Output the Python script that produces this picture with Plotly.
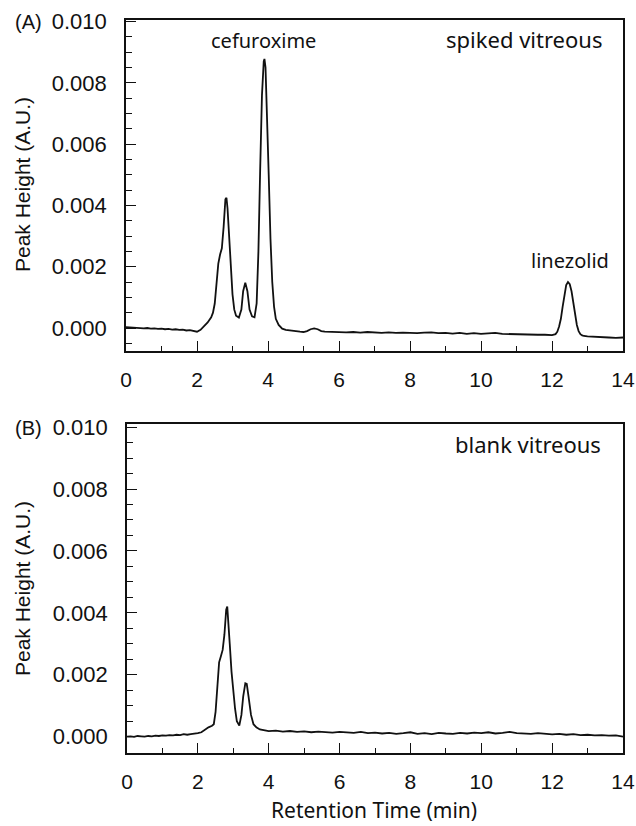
import plotly.graph_objects as go

# ---------------- data ----------------
time_a = [0.0, 0.1, 0.2, 0.3, 0.4, 0.5, 0.6, 0.7, 0.8, 0.9, 1.0, 1.1, 1.2, 1.3, 1.4,
          1.5, 1.6, 1.7, 1.8, 1.9, 2.0, 2.1, 2.2, 2.3, 2.4, 2.45, 2.5, 2.55, 2.6, 2.65,
          2.7, 2.75, 2.8, 2.83, 2.86, 2.9, 2.95, 3.0, 3.05, 3.1, 3.18, 3.25, 3.3, 3.36,
          3.42, 3.48, 3.55, 3.62, 3.68, 3.73, 3.78, 3.83, 3.88, 3.9, 3.93, 3.97, 4.02,
          4.07, 4.12, 4.17, 4.22, 4.3, 4.4, 4.5, 4.6, 4.7, 4.8, 4.9, 5.0, 5.1, 5.2, 5.3,
          5.4, 5.5, 5.6, 5.8, 6.0, 6.2, 6.4, 6.6, 6.8, 7.0, 7.2, 7.4, 7.6, 7.8, 8.0, 8.2,
          8.4, 8.6, 8.8, 9.0, 9.2, 9.4, 9.6, 9.8, 10.0, 10.2, 10.4, 10.6, 10.8, 11.0,
          11.2, 11.4, 11.6, 11.8, 12.0, 12.1, 12.15, 12.2, 12.25, 12.3, 12.35, 12.4,
          12.45, 12.5, 12.55, 12.6, 12.65, 12.7, 12.75, 12.8, 12.85, 12.9, 13.0, 13.2,
          13.4, 13.6, 13.8, 14.0]
height_a = [0.00003, 0.00002, 0.00001, 0.00002, 0.00000, -0.00001, 0.00000, -0.00002,
            -0.00001, -0.00003, -0.00002, -0.00004, -0.00003, -0.00005, -0.00004,
            -0.00006, -0.00005, -0.00008, -0.00007, -0.00010, -0.00012, -0.00006,
            0.00005, 0.00018, 0.00035, 0.0005, 0.0008, 0.0014, 0.0021, 0.0024, 0.0026,
            0.0033, 0.0042, 0.00425, 0.0039, 0.0031, 0.0020, 0.0011, 0.0006, 0.0004,
            0.00034, 0.0006, 0.0012, 0.00148, 0.0012, 0.0006, 0.00038, 0.00035, 0.0008,
            0.0025, 0.0052, 0.0076, 0.0087, 0.00878, 0.0085, 0.0072, 0.0050, 0.0029,
            0.0015, 0.0007, 0.0003, 0.0001, -0.00002, -0.00006, -0.00008, -0.00010,
            -0.00011, -0.00012, -0.00013, -0.00010, -0.00004, -0.00001, -0.00004,
            -0.00010, -0.00012, -0.00013, -0.00012, -0.00014, -0.00013, -0.00015,
            -0.00013, -0.00015, -0.00016, -0.00014, -0.00016, -0.00015, -0.00016,
            -0.00017, -0.00015, -0.00014, -0.00017, -0.00016, -0.00018, -0.00016,
            -0.00019, -0.00017, -0.00019, -0.00018, -0.00016, -0.00019, -0.00020,
            -0.00019, -0.00021, -0.00021, -0.00022, -0.00022, -0.00023, -0.00020,
            -0.00012, 0.00005, 0.0003, 0.0007, 0.0011, 0.0014, 0.0015, 0.00143, 0.0012,
            0.0008, 0.0004, 0.0001, -0.0001, -0.0002, -0.00024, -0.00026, -0.00027,
            -0.00029, -0.0003, -0.00031, -0.00032, -0.00031]

time_b = [0.0, 0.1, 0.2, 0.3, 0.4, 0.5, 0.6, 0.7, 0.8, 0.9, 1.0, 1.1, 1.2, 1.3, 1.4,
          1.5, 1.6, 1.7, 1.8, 1.9, 2.0, 2.1, 2.2, 2.3, 2.4, 2.45, 2.5, 2.55, 2.6, 2.65,
          2.7, 2.75, 2.8, 2.83, 2.86, 2.9, 2.95, 3.0, 3.05, 3.1, 3.17, 3.23, 3.28, 3.34,
          3.38, 3.43, 3.5, 3.57, 3.65, 3.75, 3.85, 4.0, 4.2, 4.4, 4.6, 4.8, 5.0, 5.2,
          5.4, 5.6, 5.8, 6.0, 6.2, 6.4, 6.6, 6.8, 7.0, 7.2, 7.4, 7.6, 7.8, 8.0, 8.2,
          8.4, 8.6, 8.8, 9.0, 9.2, 9.4, 9.6, 9.8, 10.0, 10.2, 10.4, 10.6, 10.8, 11.0,
          11.2, 11.4, 11.6, 11.8, 12.0, 12.2, 12.4, 12.6, 12.8, 13.0, 13.2, 13.4, 13.6,
          13.8, 14.0]
height_b = [0.00000, 0.00001, -0.00001, 0.00002, 0.00001, 0.00000, 0.00002, 0.00001,
            0.00003, 0.00002, 0.00004, 0.00003, 0.00005, 0.00004, 0.00006, 0.00005,
            0.00008, 0.00006, 0.00008, 0.00009, 0.00011, 0.00014, 0.00022, 0.00030,
            0.00035, 0.0004, 0.0008, 0.0016, 0.0024, 0.0026, 0.0028, 0.0033, 0.0041,
            0.0042, 0.0038, 0.0030, 0.0021, 0.0014, 0.0009, 0.0005, 0.00036, 0.0007,
            0.0013, 0.00172, 0.0017, 0.0013, 0.0007, 0.0004, 0.0003, 0.00023, 0.0002,
            0.00018, 0.00019, 0.00016, 0.00018, 0.00015, 0.00017, 0.00014, 0.00016,
            0.00015, 0.00013, 0.00015, 0.00014, 0.00012, 0.00015, 0.00011, 0.00013,
            0.00010, 0.00012, 0.00009, 0.00011, 0.00014, 0.00009, 0.00011, 0.00008,
            0.00012, 0.00010, 0.00009, 0.00012, 0.00010, 0.00013, 0.00011, 0.00014,
            0.00010, 0.00012, 0.00015, 0.00011, 0.00010, 0.00009, 0.00011, 0.00008,
            0.00007, 0.00009, 0.00006, 0.00008, 0.00005, 0.00006, 0.00004, 0.00005,
            0.00003, 0.00004, 0.00000]

x_ticks = [0, 2, 4, 6, 8, 10, 12, 14]
y_ticks = [0.000, 0.002, 0.004, 0.006, 0.008, 0.010]
y_tick_text = ["0.000", "0.002", "0.004", "0.006", "0.008", "0.010"]

# ---------------- layout geometry ----------------
W, H = 636, 826
ML, MR, MT, MB = 126, 13, 20, 73
PW, PH = W - ML - MR, H - MT - MB


def px(xp):
    return (xp - ML) / PW


def py(yp):
    return (H - MB - yp) / PH


ARIAL = "Liberation Sans, Arial, sans-serif"
HUMAN = "Noto Sans, Open Sans, sans-serif"
INK = "#111111"

fig = go.Figure()
fig.add_trace(go.Scatter(x=time_a, y=height_a, mode="lines", xaxis="x", yaxis="y",
                         line=dict(color=INK, width=1.8), showlegend=False))
fig.add_trace(go.Scatter(x=time_b, y=height_b, mode="lines", xaxis="x2", yaxis="y2",
                         line=dict(color=INK, width=1.8), showlegend=False))

xcommon = dict(range=[0, 14], tickvals=x_ticks, ticks="inside", ticklen=10, tickwidth=1.4,
               tickcolor=INK, showline=True, linecolor=INK, linewidth=1.7, mirror=True,
               showgrid=False, zeroline=False, ticklabelstandoff=9, automargin=False,
               tickfont=dict(family=ARIAL, size=21, color=INK),
               minor=dict(dtick=1, tick0=0, ticks="inside", ticklen=5, tickwidth=1.3,
                          tickcolor=INK, showgrid=False))
ycommon = dict(tickvals=y_ticks, ticktext=y_tick_text, ticks="inside", ticklen=10,
               tickwidth=1.4, tickcolor=INK, showline=True, linecolor=INK, linewidth=1.7,
               mirror=True, showgrid=False, zeroline=False, ticklabelstandoff=13,
               automargin=False,
               tickfont=dict(family=ARIAL, size=22, color=INK),
               minor=dict(dtick=0.0005, tick0=0, ticks="inside", ticklen=6, tickwidth=1.3,
                          tickcolor=INK, showgrid=False))

fig.update_layout(
    width=W, height=H,
    margin=dict(l=ML, r=MR, t=MT, b=MB, pad=0, autoexpand=False),
    paper_bgcolor="white", plot_bgcolor="white",
    xaxis=dict(xcommon, domain=[0, 1], anchor="y"),
    yaxis=dict(ycommon, domain=[py(351), 1], anchor="x", range=[-0.00075, 0.01005]),
    xaxis2=dict(xcommon, domain=[px(127), 1], anchor="y2"),
    yaxis2=dict(ycommon, domain=[0, py(424)], anchor="x2", range=[-0.00053, 0.0101]),
)

ann = []
# y axis titles
for yc in (185, 589):
    ann.append(dict(text="Peak Height (A.U.)", xref="paper", yref="paper",
                    x=px(22), y=py(yc), textangle=-90, showarrow=False,
                    xanchor="center", yanchor="middle",
                    font=dict(family=ARIAL, size=21, color=INK)))
# panel letters
ann.append(dict(text="(A)", xref="paper", yref="paper", x=px(28), y=py(22),
                showarrow=False, xanchor="center", yanchor="middle",
                font=dict(family=ARIAL, size=20, color=INK)))
ann.append(dict(text="(B)", xref="paper", yref="paper", x=px(28), y=py(428),
                showarrow=False, xanchor="center", yanchor="middle",
                font=dict(family=ARIAL, size=20, color=INK)))
# x title
ann.append(dict(text="Retention Time (min)", xref="paper", yref="paper",
                x=px(374), y=py(810), showarrow=False, xanchor="center", yanchor="middle",
                font=dict(family=HUMAN, size=21, color=INK)))
# in-plot labels
ann.append(dict(text="cefuroxime", xref="x", yref="y", x=3.88, y=0.00937,
                showarrow=False, xanchor="center", yanchor="middle",
                font=dict(family=HUMAN, size=20, color=INK)))
ann.append(dict(text="spiked vitreous", xref="x", yref="y", x=11.22, y=0.00943,
                showarrow=False, xanchor="center", yanchor="middle",
                font=dict(family=HUMAN, size=22, color=INK)))
ann.append(dict(text="linezolid", xref="x", yref="y", x=12.52, y=0.00221,
                showarrow=False, xanchor="center", yanchor="middle",
                font=dict(family=HUMAN, size=20, color=INK)))
ann.append(dict(text="blank vitreous", xref="x2", yref="y2", x=11.32, y=0.00946,
                showarrow=False, xanchor="center", yanchor="middle",
                font=dict(family=HUMAN, size=22, color=INK)))
fig.update_layout(annotations=ann)

fig.write_html(
    "out.html",
    config={"displayModeBar": False},
    post_script="document.body.style.margin='0px';document.body.style.overflow='hidden';",
)
